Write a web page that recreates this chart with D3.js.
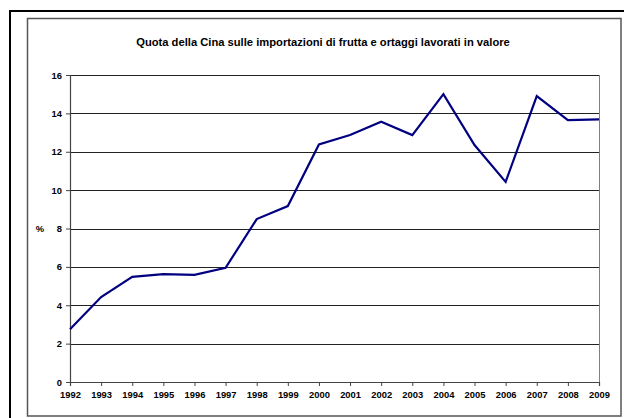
<!DOCTYPE html>
<html>
<head>
<meta charset="utf-8">
<script src="https://cdn.jsdelivr.net/npm/d3@7"></script>
<style>
  body { margin: 0; background: #fff; }
  svg text { font-family: "Liberation Sans", Arial, sans-serif; font-weight: bold; fill: #000; }
</style>
</head>
<body>
<div id="chart-area"></div>
<script>
// data
var years = [1992, 1993, 1994, 1995, 1996, 1997, 1998, 1999, 2000,
             2001, 2002, 2003, 2004, 2005, 2006, 2007, 2008, 2009];
var quota = [2.75, 4.43, 5.48, 5.62, 5.58, 5.95, 8.49, 9.17, 12.38,
             12.87, 13.57, 12.87, 15.0, 12.35, 10.43, 14.9, 13.65, 13.69];
var yTicks = [0, 2, 4, 6, 8, 10, 12, 14, 16];
var title = "Quota della Cina sulle importazioni di frutta e ortaggi lavorati in valore";

var W = 624, H = 418;
var margin = {left: 70, top: 75, right: 25, bottom: 36};
var width = W - margin.left - margin.right;
var height = H - margin.top - margin.bottom;

var svg = d3.select("#chart-area")
    .append("svg")
    .attr("width", W)
    .attr("height", H);

// outer frame
svg.append("rect")
    .attr("x", 10).attr("y", 11)
    .attr("width", 620).attr("height", 420)
    .attr("fill", "none")
    .attr("stroke", "#000")
    .attr("stroke-width", 2);

// chart area frame
svg.append("rect")
    .attr("x", 27.5).attr("y", 18.5)
    .attr("width", 593.5).attr("height", 397.5)
    .attr("fill", "none")
    .attr("stroke", "#555")
    .attr("stroke-width", 1.5);

svg.append("text")
    .attr("x", 323)
    .attr("y", 46)
    .attr("text-anchor", "middle")
    .attr("font-size", "11.2px")
    .text(title);

var g = svg.append("g")
    .attr("transform", "translate(" + margin.left + "," + margin.top + ")");

// scales
var x = d3.scalePoint()
    .domain(years)
    .range([0, width]);

var y = d3.scaleLinear()
    .domain([0, 16])
    .range([height, 0]);

// gridlines
g.selectAll(".grid")
    .data(yTicks.filter(function(d){ return d > 0; }))
    .enter().append("line")
    .attr("class", "grid")
    .attr("x1", 0).attr("x2", width)
    .attr("y1", function(d){ return Math.round(y(d)) + 0.5; })
    .attr("y2", function(d){ return Math.round(y(d)) + 0.5; })
    .attr("stroke", "#222")
    .attr("stroke-width", 1);

// plot area border (right side)
g.append("line")
    .attr("x1", width + 0.5).attr("x2", width + 0.5)
    .attr("y1", y(16)).attr("y2", height)
    .attr("stroke", "#808080");

// axes
var leftAxis = d3.axisLeft(y)
    .tickValues(yTicks)
    .tickSize(4)
    .tickPadding(4);

var yAxis = g.append("g")
    .attr("class", "y-axis")
    .call(leftAxis);

var bottomAxis = d3.axisBottom(x)
    .tickSize(4)
    .tickPadding(5)
    .tickFormat(d3.format("d"));

var xAxis = g.append("g")
    .attr("class", "x-axis")
    .attr("transform", "translate(0," + height + ")")
    .call(bottomAxis);

[yAxis, xAxis].forEach(function(a){
    a.select(".domain").attr("stroke", "#444").attr("stroke-width", 1.2);
    a.selectAll(".tick line").attr("stroke", "#444");
    a.selectAll("text")
        .attr("font-size", "9.4px")
        .attr("font-family", "'Liberation Sans', Arial, sans-serif")
        .attr("font-weight", "bold")
        .attr("fill", "#000");
});

// y label
g.append("text")
    .attr("x", -30)
    .attr("y", y(8))
    .attr("dy", "0.35em")
    .attr("text-anchor", "middle")
    .attr("font-size", "9.4px")
    .text("%");

// line
var line = d3.line()
    .x(function(d, i){ return x(years[i]); })
    .y(function(d){ return y(d); });

g.append("path")
    .datum(quota)
    .attr("fill", "none")
    .attr("stroke", "#000080")
    .attr("stroke-width", 2.2)
    .attr("stroke-linejoin", "miter")
    .attr("d", line);
</script>
</body>
</html>
